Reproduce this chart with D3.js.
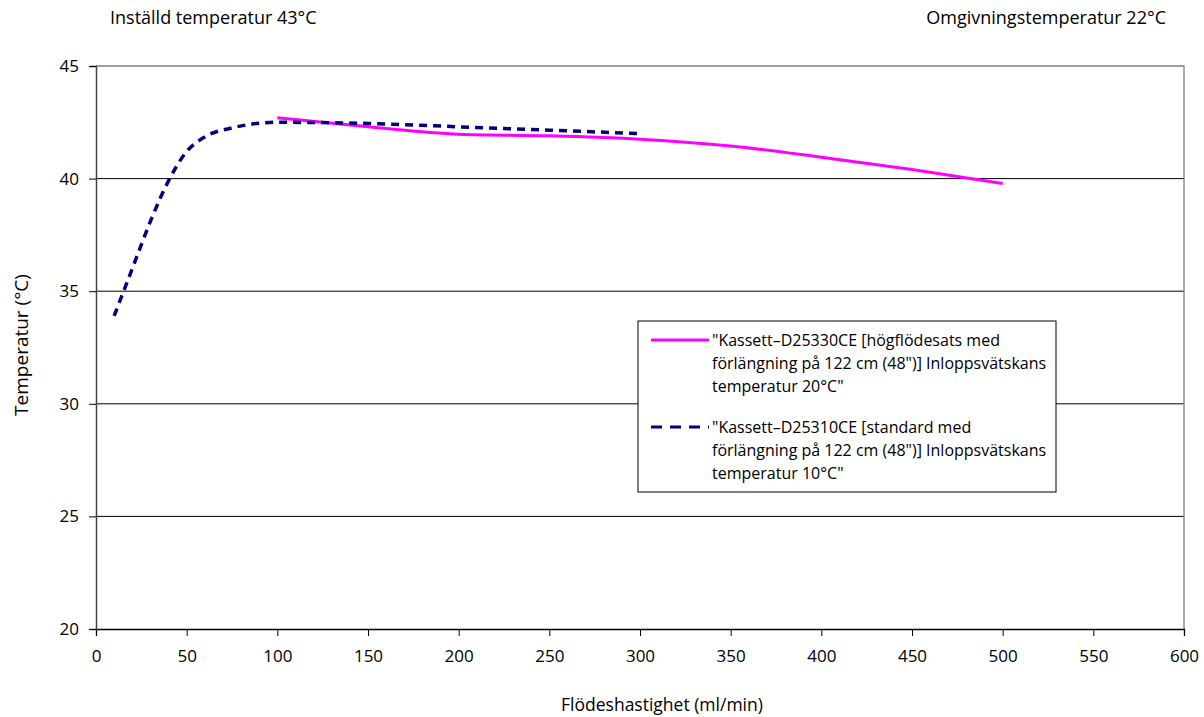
<!DOCTYPE html>
<html>
<head>
<meta charset="utf-8">
<script src="https://cdn.jsdelivr.net/npm/d3@7"></script>
<style>
  body { margin: 0; background: #fff; }
  svg text { font-family: "Open Sans", "Lato", sans-serif; fill: #000; }
</style>
</head>
<body>
<div id="grafica"></div>
<script>
// data
var highFlow = [
  [100, 42.7], [150, 42.3], [200, 41.97], [250, 41.9], [300, 41.75],
  [350, 41.45], [400, 40.95], [450, 40.4], [500, 39.78]
];
var standard = [
  [10, 33.9], [20, 36.0], [30, 38.1], [40, 39.9], [50, 41.2], [60, 41.85],
  [75, 42.25], [100, 42.5], [150, 42.45], [200, 42.3], [250, 42.15], [300, 42.0]
];
var xTicks = [0, 50, 100, 150, 200, 250, 300, 350, 400, 450, 500, 550, 600];
var yTicks = [20, 25, 30, 35, 40, 45];
var legendHigh = ["\"Kassett\u2013D25330CE [högflödesats med", "förlängning på 122 cm (48\")] Inloppsvätskans", "temperatur 20°C\""];
var legendStd = ["\"Kassett\u2013D25310CE [standard med", "förlängning på 122 cm (48\")] Inloppsvätskans", "temperatur 10°C\""];

var W = 1204, H = 717;
var margin = { top: 66, right: 20, bottom: 88, left: 96 },
  width = 1184 - margin.left,
  height = 629 - margin.top;

var root = d3.select("#grafica").append("svg")
  .attr("width", W).attr("height", H);
var svg = root.append("g")
  .attr("transform", "translate(" + margin.left + "," + margin.top + ")");

var x = d3.scaleLinear().domain([0, 600]).range([0, width]);
var y = d3.scaleLinear().domain([20, 45]).range([height, 0]);

// gridlines
svg.append("g")
  .selectAll("line")
  .data(yTicks.filter(d => d > 20 && d < 45))
  .enter().append("line")
  .attr("x1", 0).attr("x2", width)
  .attr("y1", d => y(d)).attr("y2", d => y(d))
  .attr("stroke", "#000").attr("stroke-width", 1);

// plot frame (top + right)
svg.append("path")
  .attr("d", "M0,0H" + width + "V" + height)
  .attr("fill", "none").attr("stroke", "#808080").attr("stroke-width", 1.3);

// axes
var xAxis = svg.append("g")
  .attr("transform", "translate(0," + height + ")")
  .call(d3.axisBottom(x).tickValues(xTicks).tickSize(7).tickPadding(9));
var yAxis = svg.append("g")
  .call(d3.axisLeft(y).tickValues(yTicks).tickSize(7).tickPadding(10));

xAxis.select(".domain").attr("stroke", "#000").attr("stroke-width", 1.3);
yAxis.select(".domain").attr("stroke", "#444").attr("stroke-width", 1.5);
xAxis.selectAll("text").style("font-size", "17px").attr("dy", "1em");
yAxis.selectAll("text").style("font-size", "17px");
yAxis.selectAll(".tick line").attr("stroke", "#000");

// lines
var line = d3.line()
  .x(d => x(d[0]))
  .y(d => y(d[1]))
  .curve(d3.curveMonotoneX);

svg.append("path")
  .datum(highFlow)
  .attr("d", line)
  .attr("fill", "none")
  .attr("stroke", "#ff00ff")
  .attr("stroke-width", 3);

svg.append("path")
  .datum(standard)
  .attr("d", line)
  .attr("fill", "none")
  .attr("stroke", "#000080")
  .attr("stroke-width", 3.5)
  .style("stroke-dasharray", "8,6");

// axis labels
root.append("text")
  .attr("x", 662).attr("y", 711)
  .attr("text-anchor", "middle")
  .style("font-size", "17.5px")
  .text("Flödeshastighet (ml/min)");

root.append("text")
  .attr("transform", "translate(28,345) rotate(-90)")
  .attr("text-anchor", "middle")
  .style("font-size", "19px")
  .text("Temperatur (°C)");

// header notes
root.append("text")
  .attr("x", 110).attr("y", 24)
  .style("font-size", "18px")
  .text("Inställd temperatur 43°C");
root.append("text")
  .attr("x", 1166).attr("y", 24)
  .attr("text-anchor", "end")
  .style("font-size", "18px")
  .text("Omgivningstemperatur 22°C");

// legend
var lg = root.append("g").attr("transform", "translate(638,321)");
lg.append("rect")
  .attr("width", 418).attr("height", 171)
  .attr("fill", "#fff").attr("stroke", "#000").attr("stroke-width", 1);

var entries = [
  { lines: legendHigh, color: "#ff00ff", dash: null, y0: 19 },
  { lines: legendStd, color: "#000080", dash: "11,8", y0: 106 }
];
entries.forEach(function (e) {
  lg.append("line")
    .attr("x1", 13).attr("x2", 71)
    .attr("y1", e.y0).attr("y2", e.y0)
    .attr("stroke", e.color)
    .attr("stroke-width", 3)
    .style("stroke-dasharray", e.dash);
  lg.selectAll(null)
    .data(e.lines)
    .enter().append("text")
    .attr("x", 74)
    .attr("y", (d, i) => e.y0 + 6 + i * 23)
    .style("font-size", "16px")
    .text(d => d);
});
</script>
</body>
</html>
